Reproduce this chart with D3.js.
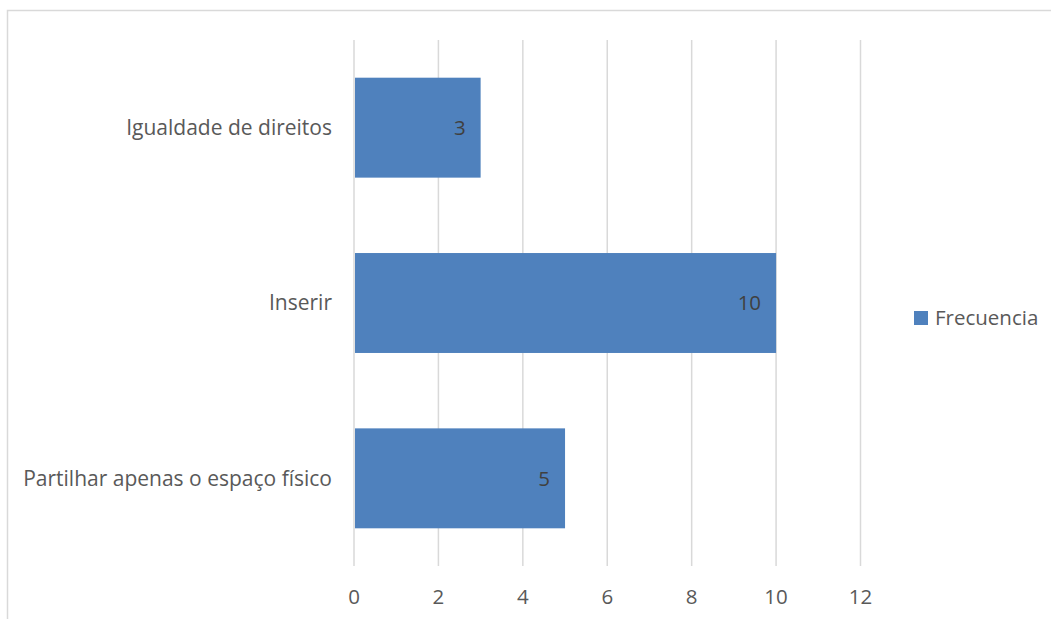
<!DOCTYPE html>
<html><head><meta charset="utf-8">
<script src="https://cdn.jsdelivr.net/npm/d3@7"></script>
<style>body{margin:0;background:#fff;} svg{display:block;} text{font-family:"Open Sans",sans-serif;fill:#595959;}</style>
</head><body>
<svg id="c" width="1051" height="619"></svg>
<script>
const categories = ["Igualdade de direitos", "Inserir", "Partilhar apenas o espaço físico"];
const values = [3, 10, 5];
const tickValues = [0, 2, 4, 6, 8, 10, 12];
const seriesName = "Frecuencia";

const svg = d3.select("#c");
svg.append("rect").attr("x", 7.5).attr("y", 10.5).attr("width", 1200).attr("height", 800)
  .attr("fill", "none").attr("stroke", "#d9d9d9").attr("stroke-width", 1.5);

const x = d3.scaleLinear().domain([0, 12]).range([354, 860.5]);
const y = d3.scaleBand().domain(categories).range([40, 566]).paddingInner(0.43).paddingOuter(0.215);

svg.append("g").selectAll("line").data(tickValues).join("line")
  .attr("x1", d => x(d)).attr("x2", d => x(d)).attr("y1", 40).attr("y2", 566)
  .attr("stroke", "#d9d9d9").attr("stroke-width", 1.5);

svg.append("g").selectAll("rect").data(values).join("rect")
  .attr("x", x(0) + 1).attr("y", (d, i) => y(categories[i]))
  .attr("width", d => x(d) - x(0) - 1).attr("height", y.bandwidth())
  .attr("fill", "#4f81bd");

const fs = 20.5;
svg.append("g").selectAll("text").data(values).join("text")
  .attr("x", d => x(d) - 15).attr("y", (d, i) => y(categories[i]) + y.bandwidth() / 2)
  .attr("dy", "0.35em").attr("text-anchor", "end").attr("font-size", fs).style("fill", "#404040")
  .text(d => d);

svg.append("g").selectAll("text").data(categories).join("text")
  .attr("x", 332).attr("y", d => y(d) + y.bandwidth() / 2).attr("dy", "0.35em")
  .attr("text-anchor", "end").attr("font-size", 21).text(d => d);

svg.append("g").selectAll("text").data(tickValues).join("text")
  .attr("x", d => x(d)).attr("y", 597).attr("dy", "0.35em")
  .attr("text-anchor", "middle").attr("font-size", fs).text(d => d);

const lg = svg.append("g").attr("transform", "translate(914,311)");
lg.append("rect").attr("width", 14).attr("height", 14).attr("fill", "#4f81bd");
lg.append("text").attr("x", 21).attr("y", 7).attr("dy", "0.35em").attr("font-size", fs).text(seriesName);
</script>
</body></html>
